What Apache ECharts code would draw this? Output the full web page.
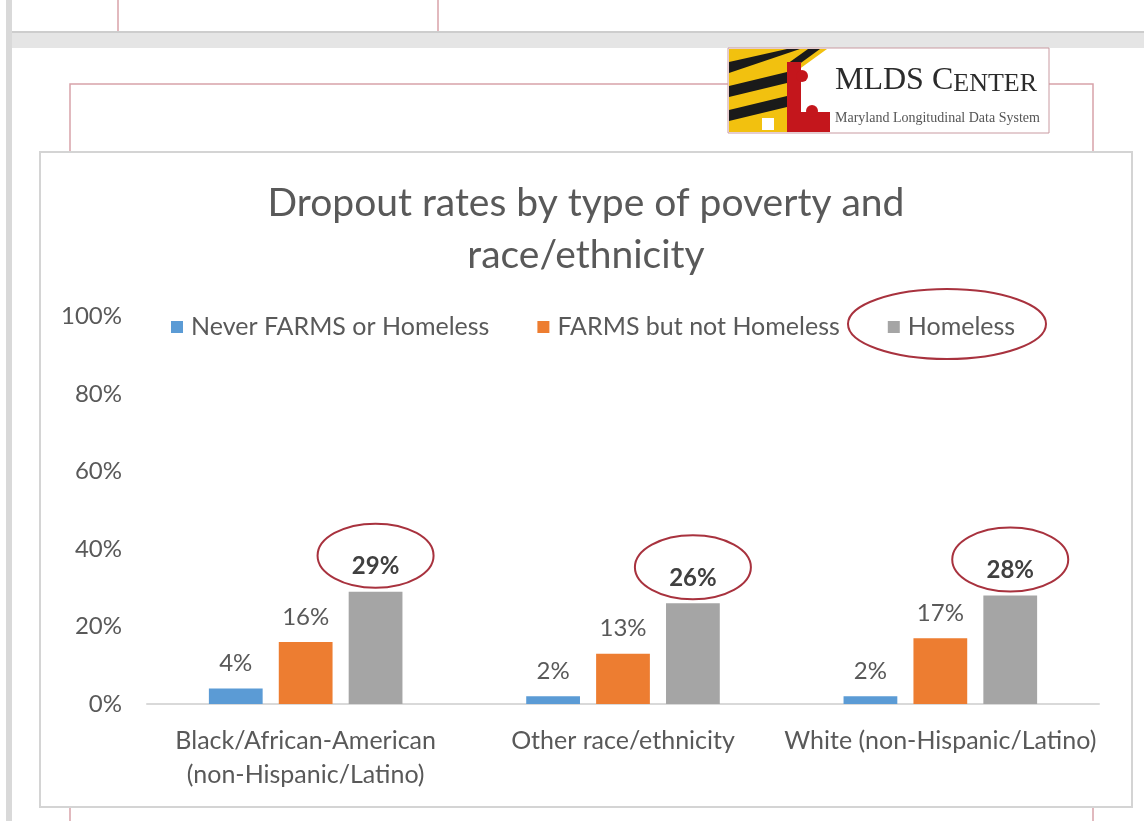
<!DOCTYPE html>
<html>
<head>
<meta charset="utf-8">
<script src="https://cdn.jsdelivr.net/npm/echarts@6/dist/echarts.min.js"></script>
<style>
html,body{margin:0;padding:0;background:#ffffff;}
#chart{width:1144px;height:821px;}
</style>
</head>
<body>
<div id="chart"></div>
<script>
// ---- data ----
const titleText = 'Dropout rates by type of poverty and\nrace/ethnicity';
const categories = ['Black/African-American\n(non-Hispanic/Latino)', 'Other race/ethnicity', 'White (non-Hispanic/Latino)'];
const seriesNames = ['Never FARMS or Homeless', 'FARMS but not Homeless', 'Homeless'];
const neverFarmsOrHomeless = [4, 2, 2];
const farmsNotHomeless = [16, 13, 17];
const homeless = [29, 26, 28];
const yMin = 0, yMax = 100, yInterval = 20;

// ---- style ----
const FONT = 'Lato, "Open Sans", sans-serif';
const SERIF = '"Liberation Serif", "DejaVu Serif", serif';
const TXT = '#595959';
const COLORS = ['#5B9BD5', '#ED7D31', '#A5A5A5'];
const RED = '#a8323e';
const FRAME = '#d8a2a9';
const CAT_GAP = 0.39, BAR_GAP = 0.30;
const barFrac = (1 - CAT_GAP) / (3 + 2 * BAR_GAP);

const chart = echarts.init(document.getElementById('chart'), null, {renderer: 'canvas'});

function barSeries(name, data, idx, bold) {
  return {
    name: name, type: 'bar', data: data,
    barCategoryGap: (CAT_GAP * 100) + '%', barGap: (BAR_GAP * 100) + '%',
    itemStyle: {color: COLORS[idx]},
    label: {
      show: true, position: 'top', distance: 13,
      formatter: '{c}%', fontFamily: FONT, fontSize: 24,
      color: bold ? '#404040' : TXT, fontWeight: bold ? 'bold' : 'normal'
    },
    z: 2
  };
}

const graphics = [
  // left grey strip & band between pages
  {type: 'rect', z: -10, shape: {x: 6, y: 0, width: 6, height: 821}, style: {fill: '#d9d9d9'}},
  {type: 'rect', z: -10, shape: {x: 12, y: 31, width: 1132, height: 17}, style: {fill: '#e5e5e5'}},
  {type: 'rect', z: -10, shape: {x: 12, y: 31, width: 1132, height: 2}, style: {fill: '#cdcdcd'}},
  {type: 'line', z: -9, shape: {x1: 118, y1: 0, x2: 118, y2: 31}, style: {stroke: FRAME, lineWidth: 1.5}},
  {type: 'line', z: -9, shape: {x1: 438, y1: 0, x2: 438, y2: 31}, style: {stroke: FRAME, lineWidth: 1.5}},
  // red page frame
  {type: 'polyline', z: -9, shape: {points: [[70, 821], [70, 84], [728, 84]]}, style: {stroke: FRAME, lineWidth: 1.5, fill: null}},
  {type: 'polyline', z: -9, shape: {points: [[1049, 84], [1093, 84], [1093, 821]]}, style: {stroke: FRAME, lineWidth: 1.5, fill: null}},
  // chart box
  {type: 'rect', z: -8, shape: {x: 40, y: 152, width: 1092, height: 655}, style: {fill: '#ffffff', stroke: '#d4d4d4', lineWidth: 2}},
  // logo
  {type: 'rect', z: -7, shape: {x: 728, y: 48, width: 321, height: 85}, style: {fill: '#ffffff', stroke: '#c99aa1', lineWidth: 1}},
  {type: 'polygon', z: -6, shape: {points: [[729, 49], [827, 49], [787, 78], [787, 132], [729, 132]]}, style: {fill: '#f2c10f'}},
  {type: 'polygon', z: -5, shape: {points: [[729, 62], [787, 49], [800, 49], [729, 73]]}, style: {fill: '#1a1a1a'}},
  {type: 'polygon', z: -5, shape: {points: [[729, 86], [787, 72], [787, 83], [729, 97]]}, style: {fill: '#1a1a1a'}},
  {type: 'polygon', z: -5, shape: {points: [[729, 110], [787, 96], [787, 107], [729, 121]]}, style: {fill: '#1a1a1a'}},
  {type: 'polygon', z: -5, shape: {points: [[808, 49], [820, 49], [787, 73], [787, 64]]}, style: {fill: '#1a1a1a'}},
  {type: 'rect', z: -5, shape: {x: 787, y: 62, width: 14, height: 70}, style: {fill: '#c4161c'}},
  {type: 'rect', z: -5, shape: {x: 801, y: 112, width: 29, height: 20}, style: {fill: '#c4161c'}},
  {type: 'circle', z: -5, shape: {cx: 802, cy: 76, r: 6}, style: {fill: '#c4161c'}},
  {type: 'circle', z: -5, shape: {cx: 812, cy: 111, r: 6}, style: {fill: '#c4161c'}},
  {type: 'rect', z: -5, shape: {x: 762, y: 118, width: 12, height: 12}, style: {fill: '#ffffff'}},
  {type: 'text', z: -4, x: 835, y: 97, style: {
    text: '{a|MLDS C}{b|ENTER}', verticalAlign: 'bottom',
    rich: {
      a: {fontFamily: SERIF, fontSize: 32, fill: '#2b2b2b', verticalAlign: 'bottom'},
      b: {fontFamily: SERIF, fontSize: 26, fill: '#2b2b2b', verticalAlign: 'bottom'}
    }
  }},
  {type: 'text', z: -4, x: 835, y: 118, style: {
    text: 'Maryland Longitudinal Data System', verticalAlign: 'middle',
    fontFamily: SERIF, fontSize: 14, fill: '#555555'
  }},
  // ellipse around legend "Homeless"
  {type: 'ellipse', z: 20, shape: {cx: 947, cy: 324, rx: 99, ry: 35}, style: {fill: null, stroke: RED, lineWidth: 2}}
];

const option = {
  backgroundColor: '#ffffff',
  animation: false,
  textStyle: {fontFamily: FONT},
  title: {
    text: titleText, left: 586, top: 177, padding: 0, textAlign: 'center',
    textStyle: {fontFamily: FONT, fontSize: 39, fontWeight: 'normal', color: TXT, lineHeight: 52}
  },
  legend: {
    data: seriesNames, left: 171, top: 312, padding: 0,
    icon: 'rect', itemWidth: 12, itemHeight: 12, itemGap: 48,
    textStyle: {fontFamily: FONT, fontSize: 25, color: TXT, lineHeight: 30, padding: [0, 0, 0, 3]}
  },
  grid: {left: 147, right: 45, top: 316.5, bottom: 117, containLabel: false, outerBoundsMode: 'none'},
  xAxis: {
    type: 'category', data: categories,
    axisLine: {lineStyle: {color: '#d9d9d9', width: 2}},
    axisTick: {show: false},
    axisLabel: {fontFamily: FONT, fontSize: 25, color: TXT, lineHeight: 34, margin: 20, interval: 0}
  },
  yAxis: {
    type: 'value', min: yMin, max: yMax, interval: yInterval,
    axisLine: {show: false}, axisTick: {show: false}, splitLine: {show: false},
    axisLabel: {formatter: '{value}%', fontFamily: FONT, fontSize: 24, color: TXT, margin: 25}
  },
  graphic: graphics,
  series: [
    barSeries(seriesNames[0], neverFarmsOrHomeless, 0, false),
    barSeries(seriesNames[1], farmsNotHomeless, 1, false),
    barSeries(seriesNames[2], homeless, 2, true),
    {
      name: 'highlight', type: 'custom', silent: true, z: 10, clip: false,
      data: homeless.map(function (v, i) { return [i, v]; }),
      renderItem: function (params, api) {
        const pt = api.coord([api.value(0), api.value(1)]);
        const band = api.size([1, 0])[0];
        const off = band * barFrac * (1 + BAR_GAP);
        return {
          type: 'ellipse',
          shape: {cx: pt[0] + off, cy: pt[1] - 36, rx: 58, ry: 32},
          style: {fill: 'none', stroke: RED, lineWidth: 2}
        };
      }
    }
  ]
};
chart.setOption(option);
</script>
</body>
</html>
